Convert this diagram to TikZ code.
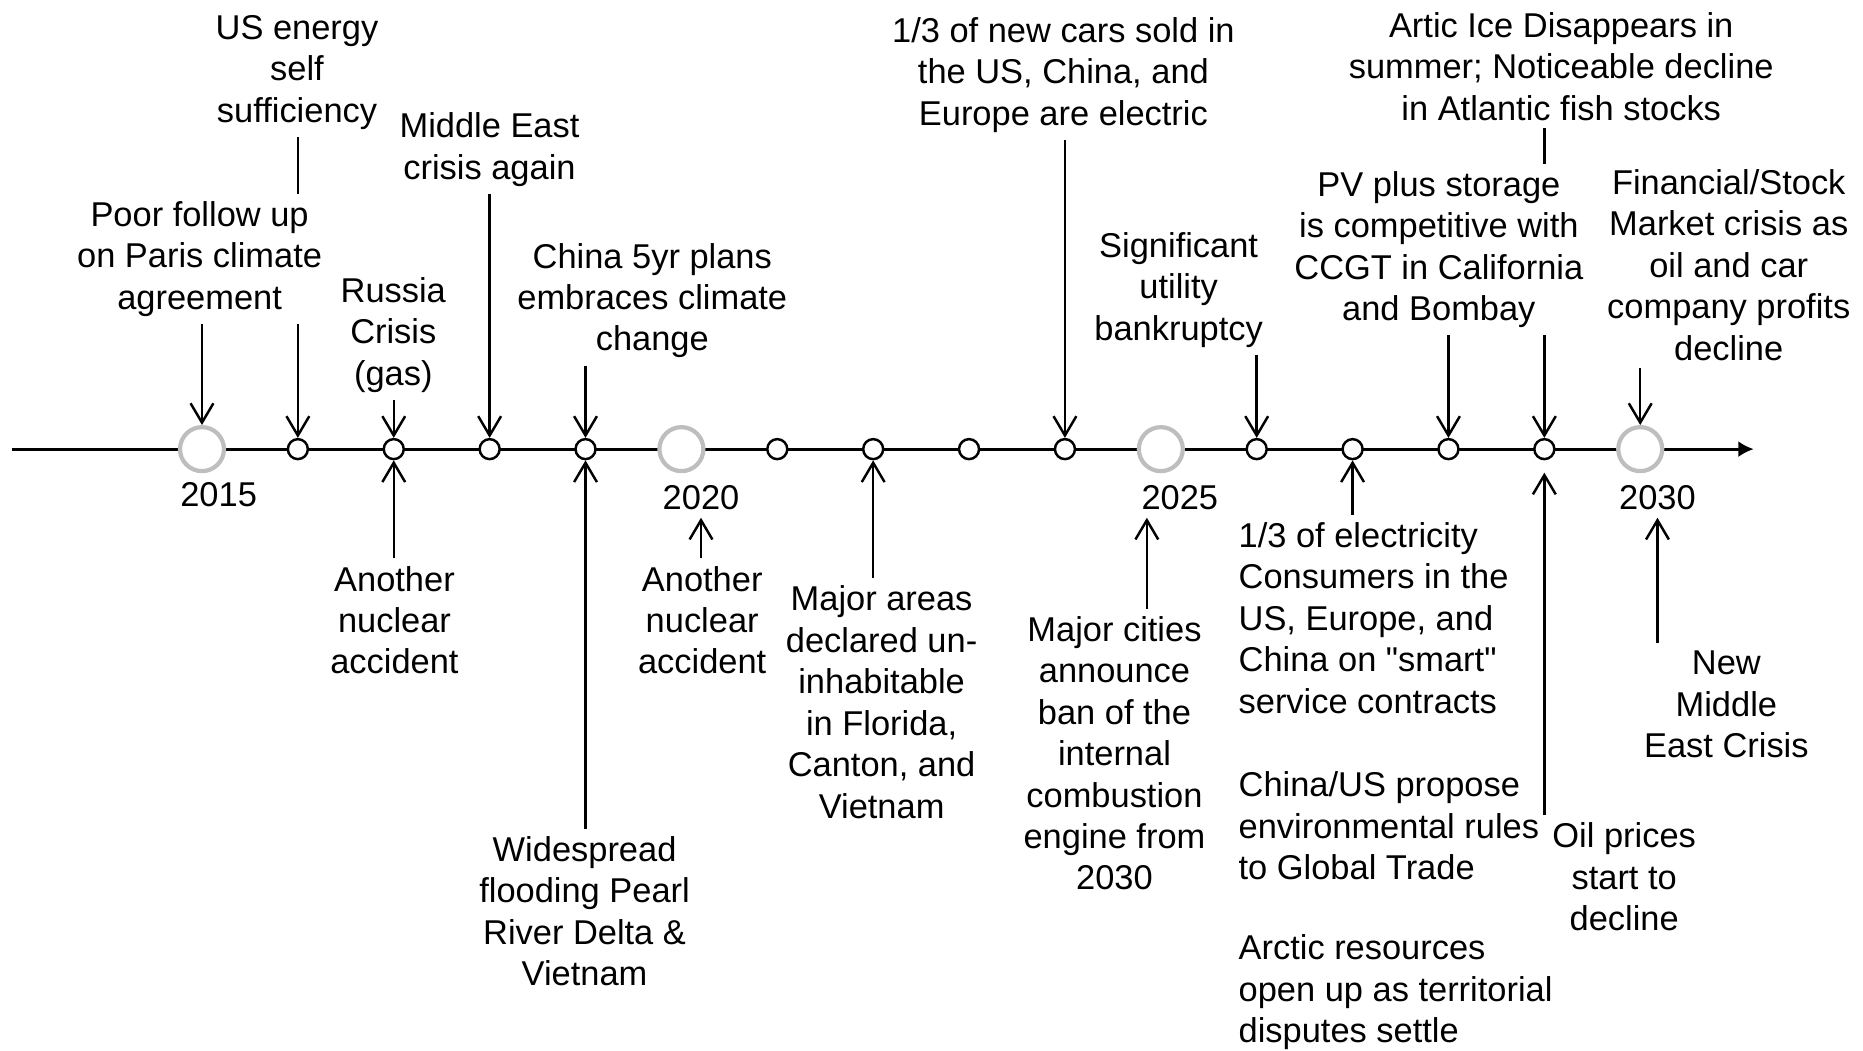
\documentclass[tikz,border=0pt]{standalone}
\usepackage{fontspec}
\defaultfontfeatures[\rmfamily]{}
\setmainfont{Liberation Sans}
\usetikzlibrary{arrows.meta}
\definecolor{yeargray}{RGB}{190,190,190}

\begin{document}
\begin{tikzpicture}[x=0.01188cm,y=-0.01188cm,
  event/.style={align=center,inner sep=2pt,font=\fontsize{9.8}{11.8}\selectfont},
  note/.style={event,align=left,anchor=west},
  tick/.style={circle,draw,fill=white,line width=0.7pt,minimum size=0.2cm,inner sep=0pt},
  bigtick/.style={circle,draw=yeargray,fill=white,line width=1.2pt,minimum size=0.44cm,inner sep=0pt},
  pin/.style={-{Straight Barb[length=5.5pt,width=6.5pt]},line width=0.7pt}]

\useasboundingbox (0,0) rectangle (1568,884);

% time axis
\coordinate (start) at (10,378);
\coordinate (end) at (1476,378);
\draw[line width=0.8pt,-{Latex[length=4.4pt,width=4.6pt]}] (start) -- (end);

\foreach \i in {1,2,3,4,6,7,8,9,11,12,13,14}
  \node[tick] (t\i) at (170+80.7*\i,378) {};
\foreach \i in {0,5,10,15}
  \node[bigtick] (t\i) at (170+80.7*\i,378) {};

\node[event] (y15) at (184,416) {2015};
\node[event] (y20) at (590,419) {2020};
\node[event] (y25) at (993,419) {2025};
\node[event] (y30) at (1395,419) {2030};

% above the axis
\node[event] (selfsuff) at (250,61) {US energy\\self\\sufficiency};
\node[event] (russia) at (331,282) {Russia\\Crisis\\(gas)};
\node[event] (mideast) at (412,126) {Middle East\\crisis again};
\node[event] (china) at (549,253) {China 5yr plans\\embraces climate\\change};
\node[event] (cars) at (895,63) {1/3 of new cars sold in\\the US, China, and\\Europe are electric};
\node[event] (utility) at (992,244) {Significant\\utility\\bankruptcy};
\node[event] (artic) at (1314,56) {Artic Ice Disappears in\\summer; Noticeable decline\\in Atlantic fish stocks};
\node[event] (finance) at (1455,223) {Financial/Stock\\Market crisis as\\oil and car\\company profits\\decline};

% below the axis
\node[event] (nukeA) at (332,522) {Another\\nuclear\\accident};
\node[event] (flood) at (492,767) {Widespread\\flooding Pearl\\River Delta \&\\Vietnam};
\node[event] (nukeB) at (591,522) {Another\\nuclear\\accident};
\node[event] (areas) at (742,591) {Major areas\\declared un-\\inhabitable\\in Florida,\\Canton, and\\Vietnam};
\node[event] (cities) at (938,634) {Major cities\\announce\\ban of the\\internal\\combustion\\engine from\\2030};
\node[note] (elec) at (1036,520) {1/3 of electricity\\Consumers in the\\US, Europe, and\\China on "smart"\\service contracts};
\node[note] (trade) at (1036,695) {China/US propose\\environmental rules\\to Global Trade};
\node[note] (arctic) at (1036,835) {Arctic resources\\open up as territorial\\disputes settle};
\node[event] (oil) at (1367,738) {Oil prices\\start to\\decline};
\node[event] (newme) at (1453,593) {New\\Middle\\East Crisis};

\draw[pin] (selfsuff.south -| t1.north) -- (t1.north);
\draw[pin] (russia.south -| t2.north) -- (t2.north);
\draw[pin] (mideast.south -| t3.north) -- (t3.north);
\draw[pin] (china.south -| t4.north) -- (t4.north);
\draw[pin] (cars.south -| t9.north) -- (t9.north);
\draw[pin] (utility.south -| t11.north) -- (t11.north);
\draw[pin] (artic.south -| t14.north) -- (t14.north);
\draw[pin] (finance.south -| t15.north) -- (t15.north);

% these two sit over the long arrows
\node[event,fill=white] (poor) at (168,218) {Poor follow up\\on Paris climate\\agreement};
\draw[pin] (poor.south -| t0.north) -- (t0.north);
\node[event,fill=white] (pv) at (1211,210) {PV plus storage\\is competitive with\\CCGT in California\\and Bombay};
\draw[pin] (pv.south -| t13.north) -- (t13.north);

\coordinate (y25tip) at ([xshift=-0.33cm]y25.south);
\draw[pin] (nukeA.north -| t2.south) -- (t2.south);
\draw[pin] (flood.north -| t4.south) -- (t4.south);
\draw[pin] (nukeB.north -| y20.south) -- (y20.south);
\draw[pin] (areas.north -| t7.south) -- (t7.south);
\draw[pin] (cities.north -| y25tip) -- (y25tip);
\draw[pin] (elec.north -| t12.south) -- (t12.south);
\draw[pin,shorten >=3.5pt] (oil.north -| t14.south) -- (t14.south);
\draw[pin] (newme.north -| y30.south) -- (y30.south);

\end{tikzpicture}
\end{document}
